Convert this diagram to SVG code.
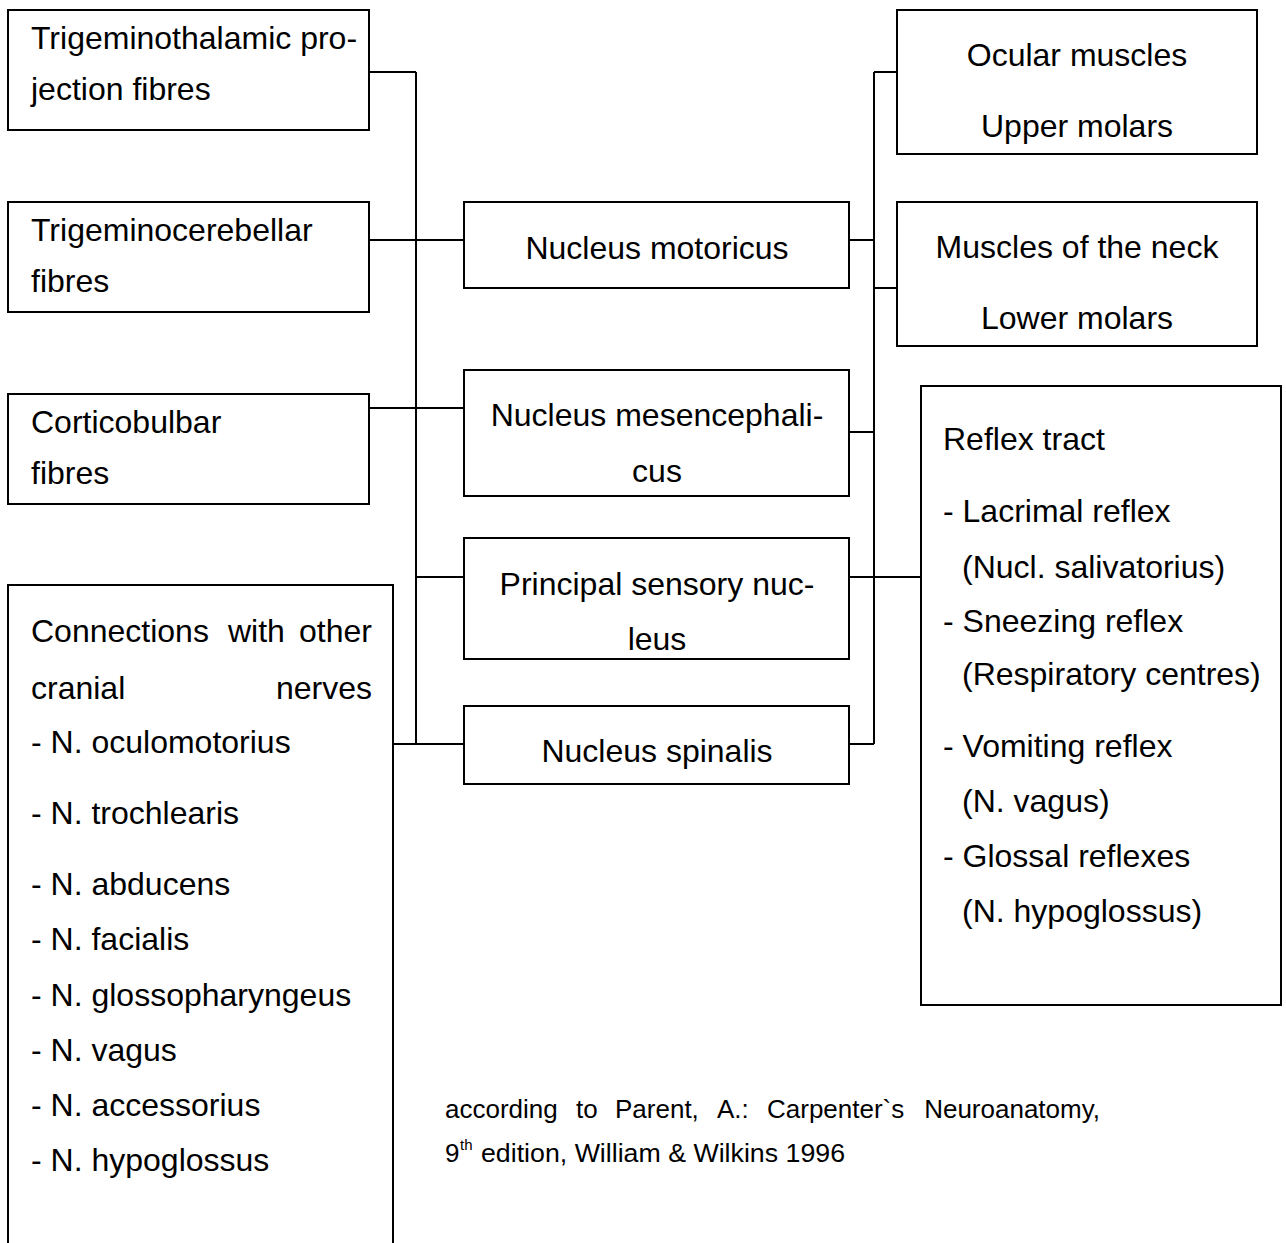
<svg xmlns="http://www.w3.org/2000/svg" width="1286" height="1243" viewBox="0 0 1286 1243">
<style>
.box{fill:#fff;stroke:#000;stroke-width:2}
.ln{fill:none;stroke:#000;stroke-width:2}
text{font-family:"Liberation Sans",Arial,sans-serif;font-size:32px;fill:#000}
.c{text-anchor:middle}
.e{text-anchor:end}
.f{font-size:26px}
.sup{font-size:15px}
</style>
<rect width="1286" height="1243" fill="#fff"/>
<g id="connectors">
<path class="ln" d="M416,72 V744"/>
<path class="ln" d="M369,72 H416"/>
<path class="ln" d="M369,240 H464"/>
<path class="ln" d="M369,408 H464"/>
<path class="ln" d="M416,577 H464"/>
<path class="ln" d="M393,744 H464"/>
<path class="ln" d="M874,72 V744"/>
<path class="ln" d="M874,72 H897"/>
<path class="ln" d="M874,288 H897"/>
<path class="ln" d="M849,240 H874"/>
<path class="ln" d="M849,432 H874"/>
<path class="ln" d="M849,577 H921"/>
<path class="ln" d="M849,744 H874"/>
</g>
<g id="trigeminothalamic">
<rect class="box" x="8" y="10" width="361" height="120"/>
<text x="31" y="49">Trigeminothalamic pro-</text>
<text x="31" y="100">jection fibres</text>
</g>
<g id="trigeminocerebellar">
<rect class="box" x="8" y="202" width="361" height="110"/>
<text x="31" y="241">Trigeminocerebellar</text>
<text x="31" y="292">fibres</text>
</g>
<g id="corticobulbar">
<rect class="box" x="8" y="394" width="361" height="110"/>
<text x="31" y="433">Corticobulbar</text>
<text x="31" y="484">fibres</text>
</g>
<g id="connections">
<path class="box" d="M8,1250 V585 H393 V1250"/>
<text x="31" y="642">Connections</text>
<text x="228" y="642">with</text>
<text class="e" x="372" y="642">other</text>
<text x="31" y="699">cranial</text>
<text class="e" x="372" y="699">nerves</text>
<text x="31" y="753">- N. oculomotorius</text>
<text x="31" y="824">- N. trochlearis</text>
<text x="31" y="895">- N. abducens</text>
<text x="31" y="950">- N. facialis</text>
<text x="31" y="1006">- N. glossopharyngeus</text>
<text x="31" y="1061">- N. vagus</text>
<text x="31" y="1116">- N. accessorius</text>
<text x="31" y="1171">- N. hypoglossus</text>
</g>
<g id="motoricus">
<rect class="box" x="464" y="202" width="385" height="86"/>
<text class="c" x="657" y="259">Nucleus motoricus</text>
</g>
<g id="mesencephalicus">
<rect class="box" x="464" y="370" width="385" height="126"/>
<text class="c" x="657" y="426">Nucleus mesencephali-</text>
<text class="c" x="657" y="482">cus</text>
</g>
<g id="principal">
<rect class="box" x="464" y="538" width="385" height="121"/>
<text class="c" x="657" y="595">Principal sensory nuc-</text>
<text class="c" x="657" y="650">leus</text>
</g>
<g id="spinalis">
<rect class="box" x="464" y="706" width="385" height="78"/>
<text class="c" x="657" y="762">Nucleus spinalis</text>
</g>
<g id="ocular">
<rect class="box" x="897" y="10" width="360" height="144"/>
<text class="c" x="1077" y="66">Ocular muscles</text>
<text class="c" x="1077" y="137">Upper molars</text>
</g>
<g id="neck">
<rect class="box" x="897" y="202" width="360" height="144"/>
<text class="c" x="1077" y="258">Muscles of the neck</text>
<text class="c" x="1077" y="329">Lower molars</text>
</g>
<g id="reflex">
<rect class="box" x="921" y="386" width="360" height="619"/>
<text x="943" y="450">Reflex tract</text>
<text x="943" y="522">- Lacrimal reflex</text>
<text x="962" y="578">(Nucl. salivatorius)</text>
<text x="943" y="632">- Sneezing reflex</text>
<text x="962" y="685">(Respiratory centres)</text>
<text x="943" y="757">- Vomiting reflex</text>
<text x="962" y="812">(N. vagus)</text>
<text x="943" y="867">- Glossal reflexes</text>
<text x="962" y="922">(N. hypoglossus)</text>
</g>
<g id="footer">
<text class="f" x="445" y="1118">according</text>
<text class="f" x="576" y="1118">to</text>
<text class="f" x="615" y="1118">Parent,</text>
<text class="f" x="717" y="1118">A.:</text>
<text class="f" x="767" y="1118">Carpenter`s</text>
<text class="f" x="1100" y="1118" text-anchor="end">Neuroanatomy,</text>
<text class="f" x="445" y="1162">9</text>
<text class="sup" x="460" y="1150">th</text>
<text class="f" x="481" y="1162" textLength="364" lengthAdjust="spacingAndGlyphs">edition, William &amp; Wilkins 1996</text>
</g>
</svg>
